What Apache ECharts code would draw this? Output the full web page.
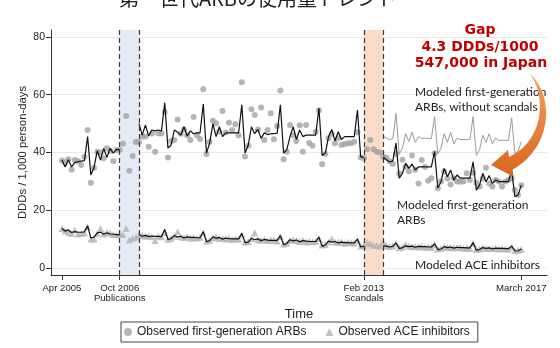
<!DOCTYPE html>
<html>
<head>
<meta charset="utf-8">
<script src="https://cdn.jsdelivr.net/npm/echarts@6/dist/echarts.min.js"></script>
<style>
  html, body { margin: 0; padding: 0; background: #ffffff; }
  #chart { width: 560px; height: 348px; }
</style>
</head>
<body>
<div id="chart"></div>
<script>
// Months are indexed from 0 = Apr 2005 to 143 = Mar 2017.

// x-axis ticks (month index) and their labels
const xTickMonths = [0, 18, 94, 143];
const xTickLabels = ['Apr 2005', 'Oct 2006\nPublications', 'Feb 2013\nScandals', 'March 2017'];
// y-axis ticks
const yTicks = [0, 20, 40, 60, 80];

// Event windows (month index): publications and scandals
const publicationWindow = [18, 24];
const scandalWindow = [94, 100];

// Observed first-generation ARBs, DDDs / 1,000 person-days, Apr 2005 - Mar 2017
const observedARB = [
  37.2, 36.5, 37.7, 34.0, 37.4, 37.0, 35.7, 38.5, 47.8, 29.5, 34.6, 40.3,
  40.0, 38.0, 41.5, 40.5, 37.0, 40.9, 40.9, 43.0, 52.6, 33.7, 38.8, 43.6,
  43.6, 45.5, 45.5, 42.0, 46.6, 40.3, 46.6, 46.6, 54.0, 38.3, 44.0, 44.3,
  51.4, 46.5, 48.0, 46.0, 44.3, 52.3, 46.0, 44.7, 61.9, 39.5, 43.7, 51.0,
  50.1, 47.2, 54.4, 46.9, 50.3, 47.8, 49.8, 46.0, 64.3, 38.6, 42.3, 55.0,
  53.0, 48.0, 55.6, 44.3, 47.8, 53.6, 44.6, 49.2, 61.5, 37.7, 40.3, 49.5,
  46.0, 44.0, 49.4, 40.3, 49.5, 43.3, 42.3, 47.2, 54.5, 35.9, 39.5, 44.9,
  46.5, 43.2, 44.9, 42.6, 42.9, 43.2, 43.2, 43.7, 47.0, 38.3, 38.0, 41.1,
  44.3, 41.1, 40.3, 40.0, 38.5, 38.3, 37.0, 36.0, 39.5, 32.7, 37.5, 35.1,
  33.5, 39.0, 34.0, 29.3, 37.4, 35.0, 30.2, 31.1, 39.7, 27.6, 30.0, 33.4,
  31.0, 28.9, 31.1, 30.0, 29.9, 30.0, 32.8, 30.5, 33.0, 29.5, 28.2, 31.0,
  34.7, 29.3, 28.2, 30.5, 30.0, 28.2, 30.0, 30.5, 31.0, 27.0, 25.3, 28.7
];

// Observed ACE inhibitors
const observedACE = [
  13.7, 12.9, 12.4, 12.0, 13.2, 11.8, 12.0, 12.2, 14.2, 10.1, 10.1, 12.0,
  13.7, 11.8, 12.3, 12.1, 11.6, 11.5, 11.8, 11.6, 13.7, 9.7, 10.3, 10.7,
  11.5, 11.3, 11.0, 11.2, 10.8, 9.5, 11.0, 10.8, 12.3, 10.0, 10.3, 11.0,
  12.6, 10.8, 10.6, 10.9, 10.3, 10.6, 10.4, 10.7, 12.2, 9.3, 9.6, 10.5,
  10.8, 10.2, 10.3, 10.1, 10.3, 9.9, 10.2, 10.0, 11.5, 9.0, 9.2, 10.2,
  12.2, 9.8, 9.7, 9.9, 9.5, 9.7, 9.6, 9.4, 10.9, 8.3, 8.6, 9.6,
  9.8, 9.5, 9.2, 9.6, 9.0, 9.3, 9.1, 9.3, 10.2, 8.0, 8.2, 9.0,
  10.1, 9.0, 8.9, 9.1, 8.6, 8.9, 8.8, 8.6, 9.6, 7.6, 7.8, 8.8,
  8.4, 7.9, 8.0, 7.6, 8.9, 7.7, 7.5, 7.7, 8.6, 7.0, 7.3, 8.2,
  7.6, 7.4, 7.5, 7.3, 7.6, 7.2, 7.3, 7.2, 8.1, 6.6, 6.8, 7.3,
  7.2, 7.0, 7.1, 7.0, 7.2, 6.9, 7.0, 6.8, 8.6, 6.4, 6.6, 7.0,
  6.9, 6.8, 6.8, 6.9, 6.6, 6.8, 6.7, 6.5, 7.4, 6.0, 6.2, 6.5
];

// Modeled first-generation ARBs: pre (months 0-18), between (24-94), after (100-143)
const modeledARBPre = [
  37.4, 35.0, 37.5, 35.0, 36.5, 36.8, 37.0, 37.2, 45.5, 32.2, 34.9, 40.6,
  37.4, 41.4, 38.3, 41.4, 39.8, 41.1, 40.9
];
const modeledARBMid = [
  50.0, 46.0, 49.5, 45.7, 47.8, 47.5, 47.8, 47.5, 57.2, 41.5, 42.6, 47.8,
  47.0, 46.0, 48.9, 45.7, 47.5, 46.5, 46.8, 46.8, 56.8, 39.8, 43.3, 50.0,
  45.5, 48.9, 45.5, 46.8, 46.8, 46.8, 46.8, 46.8, 56.5, 39.8, 42.6, 48.9,
  46.5, 48.0, 44.9, 46.8, 46.2, 46.5, 46.5, 46.7, 56.5, 39.8, 41.0, 45.5,
  48.9, 44.5, 47.8, 45.5, 46.0, 46.0, 46.0, 46.0, 55.4, 39.0, 39.8, 45.5,
  48.0, 44.0, 47.2, 44.5, 45.5, 45.5, 45.5, 45.5, 54.7, 38.5, 38.3
];
const modeledARBPost = [
  38.5, 37.5, 36.8, 37.0, 43.3, 31.1, 32.8, 36.3,
  34.5, 36.0, 34.0, 35.0, 35.0, 35.0, 35.0, 35.0, 40.3, 27.7, 29.9, 34.5,
  31.6, 33.9, 30.5, 32.2, 31.1, 31.1, 31.1, 31.1, 36.8, 27.0, 28.7, 32.8,
  29.9, 32.0, 29.3, 30.5, 29.9, 29.9, 29.9, 29.9, 33.9, 24.7, 25.3, 28.7
];
// Modeled first-generation ARBs without the scandals (months 100-143)
const modeledARBNoScandal = [
  45.5, 45.0, 44.5, 44.8, 53.5, 39.5, 41.5, 46.5,
  43.8, 47.0, 43.5, 45.5, 44.8, 45.0, 44.8, 44.8, 52.4, 39.5, 41.5, 46.5,
  43.5, 47.0, 43.0, 45.0, 44.5, 44.5, 44.5, 44.5, 52.4, 39.0, 41.0, 46.0,
  43.5, 46.5, 43.0, 45.0, 44.2, 44.2, 44.2, 44.2, 52.0, 39.5, 40.5, 43.7
];

// Modeled ACE inhibitors: same three segments
const modeledACEPre = [
  13.7, 12.8, 13.2, 12.3, 12.6, 12.4, 12.4, 12.5, 14.6, 10.4, 10.7, 12.2,
  12.4, 11.7, 12.2, 11.8, 11.7, 11.6, 11.5
];
const modeledACEMid = [
  11.6, 11.0, 11.3, 10.9, 11.1, 11.0, 11.0, 10.9, 13.4, 9.9, 10.2, 11.3,
  10.7, 11.0, 10.4, 10.8, 10.6, 10.6, 10.5, 10.5, 12.6, 9.1, 9.5, 10.8,
  10.3, 10.6, 10.0, 10.4, 10.2, 10.1, 10.1, 10.1, 12.0, 8.8, 9.0, 10.3,
  9.8, 10.1, 9.5, 9.9, 9.7, 9.6, 9.6, 9.6, 11.2, 8.1, 8.5, 9.8,
  9.4, 9.7, 9.1, 9.5, 9.3, 9.2, 9.2, 9.2, 10.7, 7.5, 8.0, 9.3,
  9.0, 9.2, 8.7, 9.0, 8.8, 8.8, 8.7, 8.7, 10.0, 7.3, 7.6
];
const modeledACEPost = [
  7.7, 7.6, 7.3, 7.5, 8.7, 6.8, 7.0, 7.7,
  7.4, 7.6, 7.2, 7.5, 7.4, 7.4, 7.3, 7.3, 8.4, 6.4, 6.6, 7.4,
  7.1, 7.3, 6.9, 7.2, 7.1, 7.1, 7.0, 7.0, 8.8, 6.2, 6.4, 7.1,
  6.8, 7.0, 6.6, 6.9, 6.8, 6.8, 6.7, 6.7, 7.6, 5.9, 6.0, 6.6
];

// ---- helpers ----
const toPairs = (values, start) => values.map((v, i) => [start + i, v]);
// Join segments into one line, breaking it between them
function segmented(parts) {
  const out = [];
  parts.forEach(([values, start], k) => {
    if (k > 0) out.push([start - 1, null]);
    out.push(...toPairs(values, start));
  });
  return out;
}
// Sample a cubic Bézier curve into points
function bezierPoints(p0, p1, p2, p3, n) {
  const pts = [];
  for (let i = 0; i <= n; i++) {
    const t = i / n, u = 1 - t;
    const a = u * u * u, b = 3 * u * u * t, c = 3 * u * t * t, d = t * t * t;
    pts.push([a * p0[0] + b * p1[0] + c * p2[0] + d * p3[0],
              a * p0[1] + b * p1[1] + c * p2[1] + d * p3[1]]);
  }
  return pts;
}
// Curved arrow outline: outer edge, arrowhead, inner edge back to the start
const arrowOutline = [].concat(
  bezierPoints([530, 74], [552, 92], [556, 145], [512, 170], 24),
  [[514, 177], [491, 165], [508, 150]],
  bezierPoints([509, 157], [545, 140], [546, 95], [530, 74], 24)
);

const axisColor = '#333333';
const textFont = 'Liberation Sans';

const chart = echarts.init(document.getElementById('chart'), null, { renderer: 'canvas' });

chart.setOption({
  animation: false,
  backgroundColor: '#ffffff',
  grid: { left: 51, right: 13, top: 30, bottom: 73 },
  xAxis: {
    type: 'value',
    min: -3.4,
    max: 151,
    name: 'Time',
    nameLocation: 'middle',
    nameGap: 25,
    nameTextStyle: { fontFamily: textFont, fontSize: 13, color: '#222' },
    axisLine: { show: true, onZero: false, lineStyle: { color: axisColor, width: 1 } },
    axisTick: { show: true, customValues: xTickMonths, length: 5, lineStyle: { color: axisColor } },
    axisLabel: {
      customValues: xTickMonths,
      formatter: v => xTickLabels[xTickMonths.indexOf(v)] || '',
      fontFamily: textFont, fontSize: 9.6, lineHeight: 10, color: '#222', margin: 8
    },
    splitLine: { show: false }
  },
  yAxis: {
    type: 'value',
    min: -2.4,
    max: 82.4,
    name: 'DDDs / 1,000 person-days',
    nameLocation: 'middle',
    nameGap: 23,
    nameMoveOverlap: false,
    nameTextStyle: { fontFamily: textFont, fontSize: 11.3, color: '#222' },
    axisLine: { show: true, onZero: false, lineStyle: { color: axisColor, width: 1 } },
    axisTick: { show: true, customValues: yTicks, length: 5, lineStyle: { color: axisColor } },
    axisLabel: { customValues: yTicks, fontFamily: textFont, fontSize: 10.5, color: '#222', margin: 6 },
    splitLine: { show: true, lineStyle: { color: '#e9e9e9', width: 1 } }
  },
  legend: {
    data: ['Observed first-generation ARBs', 'Observed ACE inhibitors'],
    left: 121,
    top: 322,
    orient: 'horizontal',
    padding: [4, 8, 4, 3],
    itemGap: 19,
    itemWidth: 8,
    itemHeight: 8,
    borderColor: '#444',
    borderWidth: 1,
    textStyle: { fontFamily: textFont, fontSize: 12, color: '#222' }
  },
  series: [
    {
      // shaded event windows
      type: 'line',
      data: [],
      z: 1,
      silent: true,
      markArea: {
        silent: true,
        data: [
          [{ xAxis: publicationWindow[0], itemStyle: { color: '#e4ebf7' } }, { xAxis: publicationWindow[1] }],
          [{ xAxis: scandalWindow[0], itemStyle: { color: '#f9ddca' } }, { xAxis: scandalWindow[1] }]
        ]
      }
    },
    {
      name: 'Observed first-generation ARBs',
      type: 'scatter',
      data: toPairs(observedARB, 0),
      symbol: 'circle',
      symbolSize: 6,
      itemStyle: { color: '#a3a3a3' },
      z: 2
    },
    {
      name: 'Observed ACE inhibitors',
      type: 'scatter',
      data: toPairs(observedACE, 0),
      symbol: 'triangle',
      symbolSize: 7,
      itemStyle: { color: '#b3b3b3' },
      z: 2
    },
    {
      name: 'Modeled first-generation ARBs, without scandals',
      type: 'line',
      data: toPairs(modeledARBNoScandal, scandalWindow[1]),
      showSymbol: false,
      lineStyle: { color: '#9b9b9b', width: 1 },
      z: 3
    },
    {
      name: 'Modeled first-generation ARBs',
      type: 'line',
      data: segmented([[modeledARBPre, 0], [modeledARBMid, publicationWindow[1]], [modeledARBPost, scandalWindow[1]]]),
      showSymbol: false,
      connectNulls: false,
      lineStyle: { color: '#111111', width: 1.2 },
      z: 4
    },
    {
      name: 'Modeled ACE inhibitors',
      type: 'line',
      data: segmented([[modeledACEPre, 0], [modeledACEMid, publicationWindow[1]], [modeledACEPost, scandalWindow[1]]]),
      showSymbol: false,
      connectNulls: false,
      lineStyle: { color: '#111111', width: 1.2 },
      z: 4
    },
    {
      // dashed boundaries of the event windows
      type: 'line',
      data: [],
      z: 5,
      silent: true,
      markLine: {
        silent: true,
        symbol: ['none', 'none'],
        label: { show: false },
        lineStyle: { color: '#3a3a3a', type: [5, 3], width: 1.2 },
        data: [
          { xAxis: publicationWindow[0] }, { xAxis: publicationWindow[1] },
          { xAxis: scandalWindow[0] }, { xAxis: scandalWindow[1] }
        ]
      }
    }
  ],
  graphic: [
    {
      type: 'text', x: 258, y: -2, z: 50,
      style: { text: '第一世代ARBの使用量トレンド', font: '20px "Noto Sans CJK JP"', fill: '#222', align: 'center', verticalAlign: 'middle' }
    },
    {
      type: 'text', x: 480, y: 30, z: 50,
      style: { text: 'Gap', font: 'bold 14px "DejaVu Sans"', fill: '#c00000', align: 'center', verticalAlign: 'middle' }
    },
    {
      type: 'text', x: 480, y: 47, z: 50,
      style: { text: '4.3 DDDs/1000', font: 'bold 14px "DejaVu Sans"', fill: '#c00000', align: 'center', verticalAlign: 'middle' }
    },
    {
      type: 'text', x: 481, y: 63, z: 50,
      style: { text: '547,000 in Japan', font: 'bold 14px "DejaVu Sans"', fill: '#c00000', align: 'center', verticalAlign: 'middle' }
    },
    {
      type: 'text', x: 415, y: 92, z: 50,
      style: { text: 'Modeled first-generation', font: '12px Lato', fill: '#222', verticalAlign: 'middle' }
    },
    {
      type: 'text', x: 415, y: 107, z: 50,
      style: { text: 'ARBs, without scandals', font: '12px Lato', fill: '#222', verticalAlign: 'middle' }
    },
    {
      type: 'text', x: 397, y: 205, z: 50,
      style: { text: 'Modeled first-generation', font: '12px Lato', fill: '#222', verticalAlign: 'middle' }
    },
    {
      type: 'text', x: 397, y: 220, z: 50,
      style: { text: 'ARBs', font: '12px Lato', fill: '#222', verticalAlign: 'middle' }
    },
    {
      type: 'text', x: 415, y: 265, z: 50,
      style: { text: 'Modeled ACE inhibitors', font: '12px Lato', fill: '#222', verticalAlign: 'middle' }
    },
    {
      // curved arrow pointing to the gap
      type: 'polygon', z: 60,
      shape: { points: arrowOutline },
      style: {
        fill: {
          type: 'linear', x: 0, y: 0, x2: 0, y2: 1,
          colorStops: [
            { offset: 0, color: '#f2a263' },
            { offset: 1, color: '#d9661d' }
          ]
        }
      }
    }
  ]
});
</script>
</body>
</html>
